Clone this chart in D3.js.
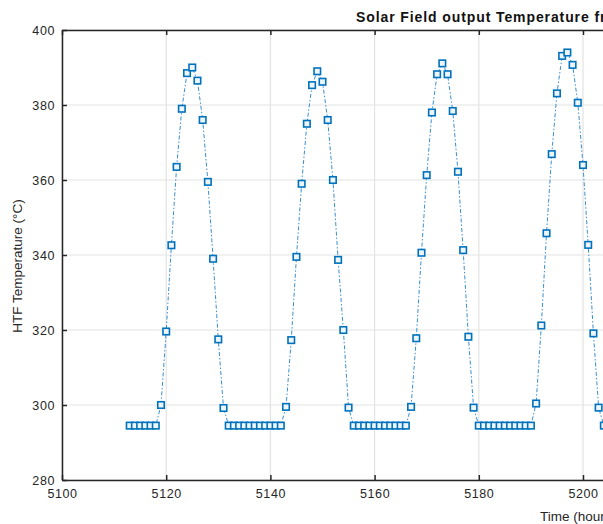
<!DOCTYPE html>
<html>
<head>
<meta charset="utf-8">
<script src="https://cdn.jsdelivr.net/npm/d3@7"></script>
<style>
  html, body { margin: 0; padding: 0; background: #fff; }
  svg { display: block; font-family: "Liberation Sans", Arial, sans-serif; }
</style>
</head>
<body>
<svg id="chart" width="603" height="524"></svg>
<script>
// hourly samples (hour of year) and HTF outlet temperature
const hours = [
  5113, 5114, 5115, 5116, 5117, 5118, 5119, 5120, 5121, 5122, 5123, 5124, 5125, 5126, 5127, 5128, 5129, 5130, 5131,
  5132, 5133, 5134, 5135, 5136, 5137, 5138, 5139, 5140, 5141, 5142,
  5143, 5144, 5145, 5146, 5147, 5148, 5149, 5150, 5151, 5152, 5153, 5154, 5155,
  5156, 5157, 5158, 5159, 5160, 5161, 5162, 5163, 5164, 5165, 5166,
  5167, 5168, 5169, 5170, 5171, 5172, 5173, 5174, 5175, 5176, 5177, 5178, 5179,
  5180, 5181, 5182, 5183, 5184, 5185, 5186, 5187, 5188, 5189, 5190,
  5191, 5192, 5193, 5194, 5195, 5196, 5197, 5198, 5199, 5200, 5201, 5202, 5203,
  5204, 5205, 5206, 5207, 5208, 5209, 5210
];
const temps = [
  294.5, 294.5, 294.5, 294.5, 294.5, 294.5, 300, 319.6, 342.6, 363.5, 379, 388.5, 390, 386.5, 376, 359.5, 339, 317.5, 299.2,
  294.5, 294.5, 294.5, 294.5, 294.5, 294.5, 294.5, 294.5, 294.5, 294.5, 294.5,
  299.5, 317.3, 339.5, 359, 375, 385.3, 389, 386.2, 376, 360, 338.7, 320, 299.3,
  294.5, 294.5, 294.5, 294.5, 294.5, 294.5, 294.5, 294.5, 294.5, 294.5, 294.5,
  299.5, 317.8, 340.6, 361.3, 378, 388.2, 391.1, 388.2, 378.4, 362.2, 341.3, 318.2, 299.3,
  294.5, 294.5, 294.5, 294.5, 294.5, 294.5, 294.5, 294.5, 294.5, 294.5, 294.5,
  300.4, 321.2, 345.8, 366.9, 383.1, 393.1, 394, 390.7, 380.6, 364, 342.7, 319.1, 299.3,
  294.5, 294.5, 294.5, 294.5, 294.5, 294.5, 294.5
];
const xTicks = [5100, 5120, 5140, 5160, 5180, 5200, 5220];
const yTicks = [280, 300, 320, 340, 360, 380, 400];

const data = hours.map((h, i) => ({ h: h, t: temps[i] }));

const plotLeft = 62, plotTop = 30, plotBottom = 480;
const pxPerHour = 5.21;
const plotRight = plotLeft + 120 * pxPerHour;

const svg = d3.select('#chart');
const x = d3.scaleLinear().domain([5100, 5220]).range([plotLeft, plotRight]);
const y = d3.scaleLinear().domain([280, 400]).range([plotBottom, plotTop]);

const axisColor = '#262626';
const gridColor = '#e3e3e3';

// grid
svg.append('g').selectAll('line')
  .data(xTicks)
  .join('line')
  .attr('x1', d => x(d)).attr('x2', d => x(d))
  .attr('y1', plotTop).attr('y2', plotBottom)
  .attr('stroke', gridColor).attr('stroke-width', 1.2);
svg.append('g').selectAll('line')
  .data(yTicks)
  .join('line')
  .attr('x1', plotLeft).attr('x2', plotRight)
  .attr('y1', d => y(d)).attr('y2', d => y(d))
  .attr('stroke', gridColor).attr('stroke-width', 1.2);

// series line
const line = d3.line().x(d => x(d.h)).y(d => y(d.t));
svg.append('path')
  .datum(data)
  .attr('d', line)
  .attr('fill', 'none')
  .attr('stroke', '#3a8fcf')
  .attr('stroke-width', 1)
  .attr('stroke-dasharray', '4,2,1.5,2');

// markers
svg.append('g').selectAll('rect')
  .data(data)
  .join('rect')
  .attr('x', d => x(d.h) - 3.25)
  .attr('y', d => y(d.t) - 3.25)
  .attr('width', 6.5).attr('height', 6.5)
  .attr('fill', '#eef5fb')
  .attr('stroke', '#0072BD')
  .attr('stroke-width', 1.6);

// axes (MATLAB style, ticks inside)
const fmt = d3.format('d');
const xAxisB = d3.axisBottom(x).tickValues(xTicks).tickFormat(fmt).tickSizeInner(-5).tickSizeOuter(0).tickPadding(9);
const xAxisT = d3.axisTop(x).tickValues(xTicks).tickSizeInner(-5).tickSizeOuter(0).tickFormat('');
const yAxisL = d3.axisLeft(y).tickValues(yTicks).tickFormat(fmt).tickSizeInner(-5).tickSizeOuter(0).tickPadding(7);

function style(g) {
  g.select('.domain').attr('stroke', axisColor).attr('stroke-width', 1.5);
  g.selectAll('.tick line').attr('stroke', axisColor).attr('stroke-width', 1.5);
  g.selectAll('.tick text').attr('fill', '#262626').attr('font-size', 12.5)
    .attr('letter-spacing', 0.6)
    .attr('font-family', '"Liberation Sans", Arial, sans-serif');
}
svg.append('g').attr('transform', `translate(0,${plotBottom})`).call(xAxisB).call(style);
svg.append('g').attr('transform', `translate(0,${plotTop})`).call(xAxisT).call(style);
svg.append('g').attr('transform', `translate(${plotLeft},0)`).call(yAxisL).call(style);

// labels
svg.append('text')
  .attr('x', 356).attr('y', 22)
  .attr('font-size', 14).attr('font-weight', 'bold').attr('fill', '#111')
  .attr('letter-spacing', 0.9)
  .text('Solar Field output Temperature from Simulation');

svg.append('text')
  .attr('x', 540).attr('y', 521)
  .attr('font-size', 13.5).attr('fill', '#262626')
  .text('Time (hours)');

svg.append('text')
  .attr('transform', 'translate(22,266) rotate(-90)')
  .attr('text-anchor', 'middle')
  .attr('font-size', 13.5).attr('fill', '#262626')
  .text('HTF Temperature (°C)');
</script>
</body>
</html>
